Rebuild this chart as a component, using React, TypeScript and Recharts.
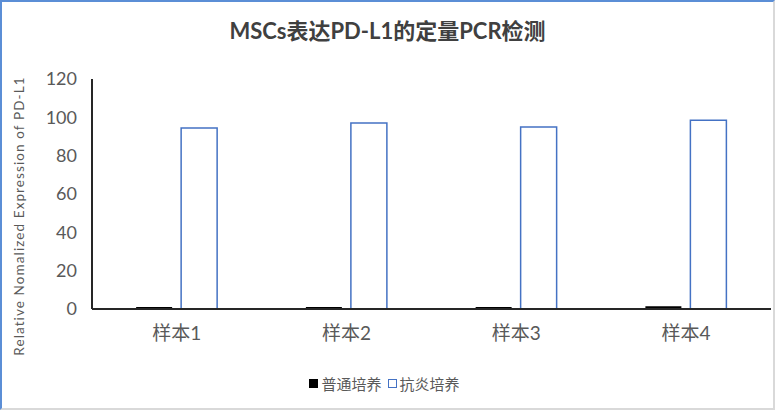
import React from 'react';
import { BarChart, Bar, XAxis, YAxis, Legend } from 'recharts';

const samples = ['样本1', '样本2', '样本3', '样本4'];
const normalCulture = [1, 1, 1, 1.5];
const antiInflammatory = [94.5, 97, 95, 98.5];
const yTicks = [0, 20, 40, 60, 80, 100, 120];
const seriesNames = { normal: '普通培养', anti: '抗炎培养' };

const data = samples.map((name, i) => ({
  name,
  normal: normalCulture[i],
  anti: antiInflammatory[i],
}));

const FONT = "Lato, 'Noto Sans CJK SC', sans-serif";

const YLabel = (props: any) => {
  const vb = props.viewBox || {};
  const cx = 17;
  const cy = (vb.y ?? 77) + (vb.height ?? 230) / 2 + 22;
  return (
    <text
      x={cx}
      y={cy}
      transform={`rotate(-90, ${cx}, ${cy})`}
      textAnchor="middle"
      dominantBaseline="central"
      fill="#595959"
      fontSize={13.5}
      letterSpacing={1.1}
      fontFamily={FONT}
    >
      Relative Nomalized Expression of PD-L1
    </text>
  );
};

const legendOrder: ('normal' | 'anti')[] = ['normal', 'anti'];

const renderLegend = () => (
  <div style={{ display: 'flex', justifyContent: 'center', fontFamily: FONT, fontSize: 15, color: '#595959' }}>
    {legendOrder.map((key) => (
      <span key={key} style={{ display: 'inline-flex', alignItems: 'center', marginRight: 6 }}>
        <span
          style={{
            display: 'inline-block',
            width: 9,
            height: 9,
            marginRight: 3,
            boxSizing: 'border-box',
            background: key === 'normal' ? '#000' : '#fff',
            border: key === 'normal' ? '1px solid #000' : '1.5px solid #4472c4',
          }}
        />
        {seriesNames[key]}
      </span>
    ))}
  </div>
);

export default function App() {
  return (
    <div
      style={{
        position: 'absolute',
        left: 0,
        top: 0,
        width: 775,
        height: 410,
        boxSizing: 'border-box',
        borderLeft: '2px solid #5b8ed6',
        borderTop: '2px solid #5b8ed6',
        borderRight: '2px solid #d9d9d9',
        borderBottom: '2px solid #d9d9d9',
        background: '#fff',
      }}
    >
      <div
        style={{
          position: 'absolute',
          left: 0,
          right: 0,
          top: 11,
          textAlign: 'center',
          fontFamily: FONT,
          fontWeight: 'bold',
          fontSize: 22,
          color: '#404040',
        }}
      >
        MSCs表达PD-L1的定量PCR检测
      </div>
      <BarChart
        width={771}
        height={406}
        data={data}
        margin={{ top: 77, right: 2, left: 0, bottom: 69 }}
        barCategoryGap="26%"
        barGap={9}
      >
        <XAxis
          dataKey="name"
          height={30}
          tickLine={false}
          axisLine={{ stroke: '#262626', strokeWidth: 2 }}
          tick={{ fill: '#595959', fontSize: 19, fontFamily: FONT }}
          tickMargin={12}
        />
        <YAxis
          width={90}
          domain={[0, 120]}
          ticks={yTicks}
          interval={0}
          tickLine={false}
          axisLine={{ stroke: '#262626', strokeWidth: 2 }}
          tick={{ fill: '#595959', fontSize: 18, fontFamily: FONT }}
          tickMargin={9}
          label={YLabel}
        />
        <Legend
          verticalAlign="middle"
          align="center"
          layout="horizontal"
          wrapperStyle={{ top: 371, left: 0, width: 771 }}
          content={renderLegend}
        />
        <Bar dataKey="normal" name={seriesNames.normal} fill="#000" isAnimationActive={false} />
        <Bar dataKey="anti" name={seriesNames.anti} fill="#fff" stroke="#4472c4" strokeWidth={1.5} isAnimationActive={false} />
      </BarChart>
    </div>
  );
}
